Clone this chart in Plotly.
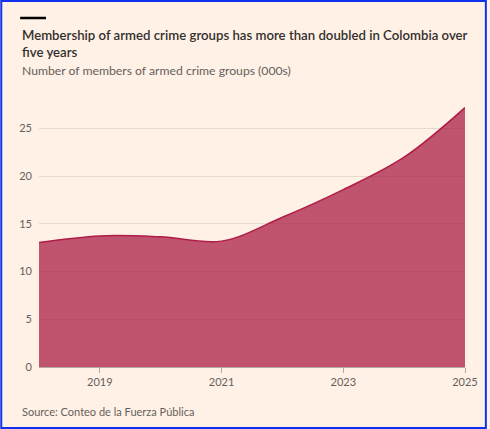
import plotly.graph_objects as go

# members of armed crime groups, thousands
years = [2018, 2019, 2020, 2021, 2022, 2023, 2024, 2025]
members = [13.05, 13.75, 13.65, 13.2, 15.7, 18.6, 22.0, 27.2]
x_ticks = [2019, 2021, 2023, 2025]
y_ticks = [0, 5, 10, 15, 20, 25]

W, H = 490, 429
L, R, T, B = 39, 22, 100, 62
pw, ph = W - L - R, H - T - B


def px(xp, yp):
    # pixel position in the image -> paper coordinates
    return (xp - L) / pw, (H - B - yp) / ph


font = "Lato"
grey = "#66605c"

fig = go.Figure()
fig.add_trace(go.Scatter(
    x=years, y=members, mode="lines", line_shape="spline",
    line=dict(color="rgb(175,28,72)", width=1.5, smoothing=1),
    fill="tozeroy", fillcolor="rgba(165,15,60,0.7)",
    hoverinfo="x+y", showlegend=False))

anns = []
x0, y0 = px(20, 25)
anns.append(dict(x=x0, y=y0, xanchor="left", yanchor="top", align="left",
                 text="Membership of armed crime groups has more than doubled in Colombia over<br>five years",
                 font=dict(family=font, size=13.2, color="#33302e", weight=600)))
x0, y0 = px(20, 61)
anns.append(dict(x=x0, y=y0, xanchor="left", yanchor="top", align="left",
                 text="Number of members of armed crime groups (000s)",
                 font=dict(family=font, size=12.2, color=grey)))
x0, y0 = px(20, 403)
anns.append(dict(x=x0, y=y0, xanchor="left", yanchor="top", align="left",
                 text="Source: Conteo de la Fuerza Pública",
                 font=dict(family=font, size=11, color=grey)))
for a in anns:
    a.update(xref="paper", yref="paper", showarrow=False)

bx0, by = px(20, 18)
bx1, _ = px(46, 18)
fx0, fy0 = px(1, 428)
fx1, fy1 = px(489, 1)
shapes = [
    dict(type="line", xref="paper", yref="paper", x0=bx0, x1=bx1, y0=by, y1=by,
         line=dict(color="#000000", width=2.5)),
    dict(type="rect", xref="paper", yref="paper", x0=fx0, x1=fx1, y0=fy0, y1=fy1,
         line=dict(color="#1030f0", width=2)),
]

fig.update_layout(
    width=W, height=H, autosize=False,
    margin=dict(l=L, r=R, t=T, b=B),
    paper_bgcolor="#fff1e5", plot_bgcolor="#fff1e5",
    font=dict(family=font, size=11, color=grey),
    annotations=anns, shapes=shapes,
    xaxis=dict(range=[2018, 2025], tickvals=x_ticks, ticks="outside", ticklen=5,
               tickcolor="#b3a9a0", showline=True, linecolor="#b3a9a0", linewidth=1,
               showgrid=False, zeroline=False, tickfont=dict(size=11, color=grey)),
    yaxis=dict(range=[0, 28], tickvals=y_ticks, showgrid=True, gridcolor="#e6d9ce",
               gridwidth=1, zeroline=False, showline=False, ticks="",
               ticklabelstandoff=6, tickfont=dict(size=11, color=grey)),
)

# drop the page's default body margin so the figure fills the window
fig.write_html("out.html", config={"displayModeBar": False},
               post_script="document.body.style.margin='0';")
